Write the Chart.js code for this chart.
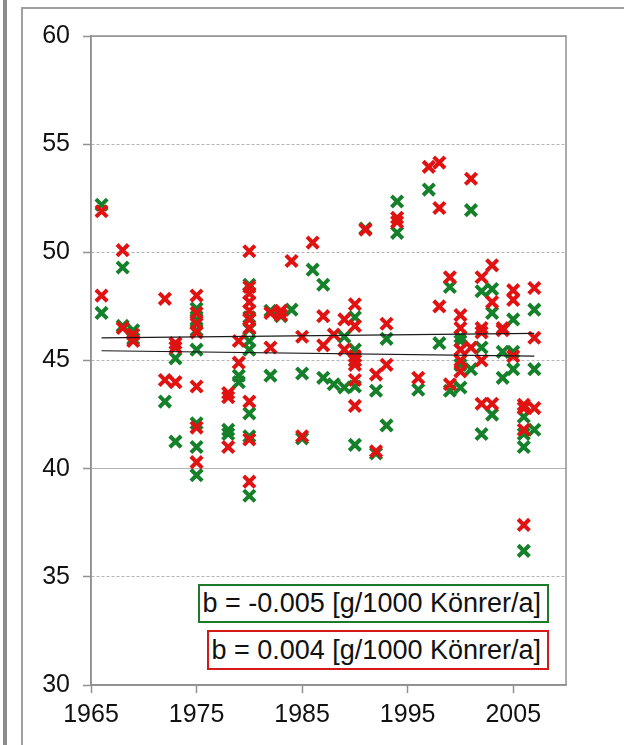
<!DOCTYPE html>
<html>
<head>
<meta charset="utf-8">
<script src="https://cdn.jsdelivr.net/npm/chart.js@4/dist/chart.umd.min.js"></script>
<style>
  body { margin: 0; width: 624px; height: 745px; overflow: hidden; background: #fff; position: relative; font-family: "Liberation Sans", Arial, sans-serif; }
  #bar { position: absolute; left: 3px; top: 0; width: 4px; height: 745px; background: #8c8c8c; }
  #frame { position: absolute; left: 21px; top: 7px; width: 700px; height: 800px; border: 2px solid #a0a0a0; }
  #wrap { position: absolute; left: 0; top: 0; width: 624px; height: 745px; }
  .note { position: absolute; box-sizing: border-box; background: #fff; font-size: 27px; color: #111; text-align: right; padding-right: 6px; white-space: nowrap; }
  #noteGreen { left: 198px; top: 584px; width: 351px; height: 39px; line-height: 35px; border: 2px solid #1d7a2a; }
  #noteRed { left: 207px; top: 630px; width: 342px; height: 40px; line-height: 36px; border: 2px solid #d61a1a; }
</style>
</head>
<body>
<div id="bar"></div>
<div id="frame"></div>
<div id="wrap"><canvas id="grafico" width="624" height="745"></canvas></div>
<div class="note" id="noteGreen">b = -0.005 [g/1000 Könrer/a]</div>
<div class="note" id="noteRed">b = 0.004 [g/1000 Könrer/a]</div>

<script>
// dados
const redYears = [1966, 1968, 1969, 1972, 1973, 1975, 1978, 1979, 1980, 1982, 1983, 1984, 1985, 1986, 1987, 1988, 1989, 1990, 1991, 1992, 1993, 1994, 1996, 1997, 1998, 1999, 2000, 2001, 2002, 2003, 2004, 2005, 2006, 2007]
const redValues = [
    [51.9, 48.0], [50.1, 46.5], [46.2, 45.9], [47.85, 44.1], [45.8, 45.6, 44.0],
    [48.0, 47.2, 46.7, 46.3, 43.8, 41.9, 40.3], [43.5, 43.3, 41.0], [45.9, 44.9],
    [50.05, 48.4, 48.1, 47.7, 47.3, 46.9, 46.5, 43.1, 41.35, 39.4],
    [47.2, 45.6], [47.3, 47.1], [49.6], [46.1, 41.5], [50.45], [47.05, 45.7], [46.2], [46.9, 45.5],
    [47.6, 46.6, 45.2, 45.0, 44.8, 44.1, 42.9], [51.05], [44.35, 40.8], [46.7, 44.8], [51.6, 51.4],
    [44.2], [53.95], [54.15, 52.05, 47.5], [48.85, 43.9], [47.1, 46.5, 45.5, 45.0, 44.5],
    [53.4, 45.6], [48.85, 46.5, 46.3, 45.0, 43.0], [49.4, 47.7, 43.0], [46.5, 46.4],
    [48.25, 47.8, 45.2], [42.95, 42.8, 41.8, 37.4], [48.35, 46.05, 42.8]
]

const greenYears = [1966, 1968, 1969, 1972, 1973, 1975, 1978, 1979, 1980, 1982, 1983, 1984, 1985, 1986, 1987, 1988, 1989, 1990, 1991, 1992, 1993, 1994, 1996, 1997, 1998, 1999, 2000, 2001, 2002, 2003, 2004, 2005, 2006, 2007]
const greenValues = [
    [52.2, 47.2], [49.3, 46.6], [46.4, 46.0], [43.1], [45.1, 41.25],
    [47.4, 46.9, 46.4, 45.5, 42.1, 41.0, 39.7], [41.8, 41.6], [44.3, 44.0],
    [48.5, 47.0, 46.45, 45.9, 45.5, 42.55, 41.5, 38.75],
    [47.3, 44.3], [47.05], [47.35], [44.4, 41.4], [49.2], [48.5, 44.2], [43.9], [46.1, 43.75],
    [47.0, 45.5, 45.0, 43.8, 41.1], [51.1], [43.6, 40.7], [46.0, 42.0], [52.35, 50.9],
    [43.65], [52.9], [45.8], [48.4, 43.6], [46.1, 45.9, 44.8, 43.75],
    [51.95, 44.6], [48.2, 45.6, 41.6], [48.3, 47.2, 42.5], [45.4, 44.2],
    [46.9, 45.4, 44.6], [42.4, 41.6, 41.0, 36.2], [47.35, 44.6, 41.8]
]

// linhas de tendência
const trendYears = [1966, 2007]
const redTrend = [46.05, 46.25]
const greenTrend = [45.45, 45.2]

const xTicks = [1965, 1975, 1985, 1995, 2005]
const yTicks = [30, 35, 40, 45, 50, 55, 60]

function pontos(anos, valores) {
    let lista = []
    anos.forEach((ano, k) => {
        valores[k].forEach(v => lista.push({ x: ano, y: v }))
    })
    return lista
}

const verde = "#15802a"
const vermelho = "#e01212"

// moldura da área do gráfico
const moldura = {
    id: "moldura",
    beforeDatasetsDraw(chart) {
        const a = chart.chartArea
        const ctx = chart.ctx
        ctx.save()
        ctx.strokeStyle = "#909090"
        ctx.lineWidth = 1.5
        ctx.strokeRect(a.left, a.top, a.right - a.left, a.bottom - a.top)
        ctx.restore()
    }
}

const fonte = { family: "'Liberation Sans', Arial, sans-serif", size: 25 }

new Chart(document.getElementById("grafico"), {
    type: "scatter",
    data: {
        datasets: [
            {
                type: "line",
                data: trendYears.map((x, k) => ({ x, y: redTrend[k] })),
                borderColor: "#1a1a1a",
                borderWidth: 1.2,
                pointRadius: 0,
                fill: false,
                order: 0
            },
            {
                type: "line",
                data: trendYears.map((x, k) => ({ x, y: greenTrend[k] })),
                borderColor: "#1a1a1a",
                borderWidth: 1.2,
                pointRadius: 0,
                fill: false,
                order: 0
            },
            {
                data: pontos(redYears, redValues),
                pointStyle: "crossRot",
                pointRadius: 8,
                borderWidth: 4,
                borderColor: vermelho,
                backgroundColor: vermelho,
                order: 1
            },
            {
                data: pontos(greenYears, greenValues),
                pointStyle: "crossRot",
                pointRadius: 8,
                borderWidth: 4,
                borderColor: verde,
                backgroundColor: verde,
                order: 2
            }
        ]
    },
    options: {
        responsive: false,
        animation: false,
        events: [],
        layout: { padding: { top: 36, right: 58, left: 0, bottom: 0 } },
        plugins: { legend: { display: false }, tooltip: { enabled: false } },
        scales: {
            x: {
                type: "linear",
                min: 1965,
                max: 2010,
                afterBuildTicks: s => { s.ticks = xTicks.map(v => ({ value: v })) },
                afterFit: s => { s.height = 60 },
                grid: { drawOnChartArea: false, drawTicks: true, tickLength: 8, tickColor: "#909090", tickWidth: 1.5 },
                border: { color: "#909090", width: 1.5 },
                ticks: { color: "#111", font: fonte, padding: 7, maxRotation: 0, autoSkip: false, callback: v => String(v) }
            },
            y: {
                min: 30,
                max: 60,
                afterBuildTicks: s => { s.ticks = yTicks.map(v => ({ value: v })) },
                afterFit: s => { s.width = 91 },
                grid: { color: "#b4b4b4", lineWidth: 1, tickLength: 8, tickColor: "#909090", tickWidth: 1.5 },
                border: {
                    color: "#909090",
                    width: 1.5,
                    dash: ctx => (ctx.tick && (ctx.tick.value === 40 || ctx.tick.value === 60 || ctx.tick.value === 30)) ? [] : [3, 2]
                },
                ticks: { color: "#111", font: fonte, padding: 13 }
            }
        }
    },
    plugins: [moldura]
})
</script>
</body>
</html>
